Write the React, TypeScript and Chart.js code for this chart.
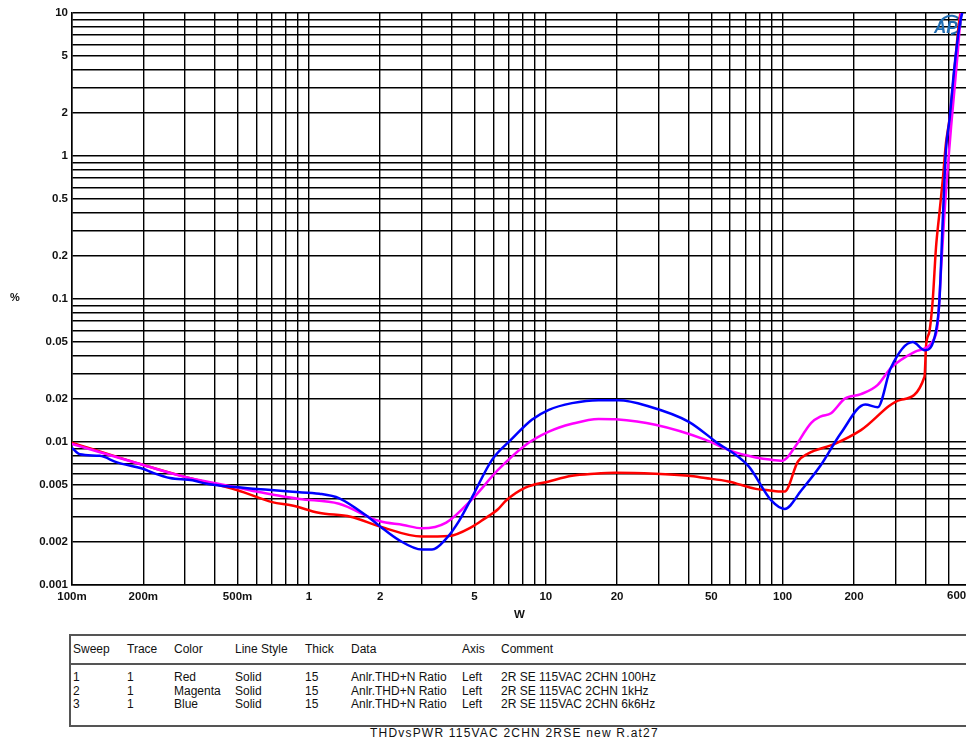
import React, { useEffect, useRef } from "react";
import { Chart, registerables } from "chart.js";

Chart.register(...registerables);

// ---------- data (W vs THD+N %) ----------
const RED_W = [0.1, 0.2, 0.3, 0.5, 0.7, 0.85, 1.1, 1.5, 2.0, 3.0, 3.9, 4.9, 5.5, 6.3, 6.8, 8.2, 10.3, 12.9, 16, 19.7, 29, 40, 47, 59, 77, 87, 96, 102, 116, 128, 166, 214, 315, 397, 403, 417, 430, 444, 459, 474, 489, 506, 531, 557, 585];
const RED_PCT = [0.0099, 0.0069, 0.0057, 0.0046, 0.0038, 0.0036, 0.0032, 0.0030, 0.00256, 0.00218, 0.0022, 0.00256, 0.0029, 0.0034, 0.0039, 0.0048, 0.0053, 0.0058, 0.006, 0.0061, 0.006, 0.0058, 0.0056, 0.0053, 0.0047, 0.0046, 0.0045, 0.0045, 0.0073, 0.0083, 0.0097, 0.0121, 0.0197, 0.0286, 0.047, 0.06, 0.098, 0.23, 0.40, 0.68, 1.23, 1.8, 4.0, 8.9, 13];

const MAGENTA_W = [0.1, 0.2, 0.3, 0.5, 0.6, 0.7, 0.91, 1.34, 1.98, 2.5, 3.0, 3.8, 4.9, 6.3, 8.2, 10.3, 12.9, 16.7, 19.7, 29, 47, 60, 77, 90, 100, 104, 113, 132, 145, 160, 183, 214, 252, 286, 361, 439, 452, 467, 482, 498, 514, 531, 548, 566, 585];
const MAGENTA_PCT = [0.0097, 0.0069, 0.0057, 0.0048, 0.0045, 0.0043, 0.0040, 0.0037, 0.0028, 0.00263, 0.00249, 0.00273, 0.0040, 0.0064, 0.0095, 0.0118, 0.0134, 0.0145, 0.0144, 0.0132, 0.0104, 0.0087, 0.0078, 0.0075, 0.0074, 0.0077, 0.0093, 0.0136, 0.0151, 0.0159, 0.0201, 0.0216, 0.0251, 0.0329, 0.0427, 0.054, 0.069, 0.168, 0.40, 0.84, 1.6, 2.9, 5.25, 10, 14];

const BLUE_W = [0.1, 0.108, 0.131, 0.155, 0.199, 0.219, 0.259, 0.323, 0.37, 0.449, 0.601, 0.852, 1.107, 1.344, 1.746, 1.98, 2.4, 3.0, 3.31, 3.79, 4.3, 4.88, 5.93, 7.19, 8.73, 10.3, 12.9, 16.7, 20.3, 27.1, 40, 52, 71.6, 89.5, 102, 120, 145, 176, 223, 252, 286, 354, 398, 444, 459, 474, 489, 506, 531, 557, 580];
const BLUE_PCT = [0.0091, 0.0082, 0.0080, 0.0072, 0.0065, 0.0061, 0.0056, 0.0054, 0.0051, 0.0049, 0.0047, 0.00448, 0.00435, 0.00404, 0.00306, 0.0026, 0.00206, 0.00177, 0.00177, 0.0021, 0.0028, 0.0041, 0.0075, 0.0105, 0.0143, 0.0168, 0.0187, 0.0196, 0.0196, 0.0178, 0.0139, 0.0101, 0.0068, 0.0039, 0.0034, 0.0046, 0.0069, 0.0115, 0.0183, 0.0175, 0.0329, 0.050, 0.0438, 0.06, 0.098, 0.356, 1.1, 1.79, 4.2, 8.0, 11];

// ---------- axes ----------
const X_MIN = 0.1;
const X_MAX = 600;
const Y_MIN = 0.001;
const Y_MAX = 10;
const X_LABEL_VALUES = [0.1, 0.2, 0.5, 1, 2, 5, 10, 20, 50, 100, 200];
const X_LABEL_TEXT = ["100m", "200m", "500m", "1", "2", "5", "10", "20", "50", "100", "200"];
const X_END_LABEL = "600";
const Y_LABEL_VALUES = [0.001, 0.002, 0.005, 0.01, 0.02, 0.05, 0.1, 0.2, 0.5, 1, 2, 5, 10];
const Y_LABEL_TEXT = ["0.001", "0.002", "0.005", "0.01", "0.02", "0.05", "0.1", "0.2", "0.5", "1", "2", "5", "10"];
const MULTIPLIERS = [1, 2, 3, 4, 5, 6, 7, 8, 9];

// ---------- table ----------
const TABLE_HEADERS = ["Sweep", "Trace", "Color", "Line Style", "Thick", "Data", "Axis", "Comment"];
const TABLE_ROWS = [
  ["1", "1", "Red", "Solid", "15", "Anlr.THD+N Ratio", "Left", "2R SE 115VAC 2CHN 100Hz"],
  ["2", "1", "Magenta", "Solid", "15", "Anlr.THD+N Ratio", "Left", "2R SE 115VAC 2CHN 1kHz"],
  ["3", "1", "Blue", "Solid", "15", "Anlr.THD+N Ratio", "Left", "2R SE 115VAC 2CHN 6k6Hz"],
];
const COL_X = [73, 127, 174, 235, 305, 351, 462, 501];
const ROW_Y = [677, 690.5, 704];
const FOOTER = "THDvsPWR 115VAC 2CHN 2RSE new R.at27";

function gridTicks(min: number, max: number) {
  const out: number[] = [];
  for (let e = Math.floor(Math.log10(min)); e <= Math.ceil(Math.log10(max)); e++) {
    for (const m of MULTIPLIERS) {
      const v = Number((m * Math.pow(10, e)).toPrecision(6));
      if (v >= min * 0.9999 && v <= max * 1.0001) out.push(v);
    }
  }
  return out;
}

function labelFor(values: number[], texts: string[], v: number) {
  const i = values.findIndex((x) => Math.abs(x - v) / x < 1e-6);
  return i >= 0 ? texts[i] : "";
}

const FONT_FAMILY = "'Liberation Sans', Arial, sans-serif";
const AXIS_FONT = { family: FONT_FAMILY, size: 11.5, weight: "bold" as const };
const TABLE_FONT = "'Liberation Sans', Arial, sans-serif";

const decorPlugin = {
  id: "decor",
  beforeDatasetsDraw(chart: any) {
    const ctx = chart.ctx;
    ctx.save();
    ctx.strokeStyle = "#1f6db3";
    ctx.fillStyle = "#1f6db3";
    ctx.lineWidth = 2;
    ctx.beginPath();
    ctx.ellipse(950, 25, 11, 9, -0.3, Math.PI * 1.15, Math.PI * 2.55);
    ctx.stroke();
    ctx.font = "italic bold 17px " + FONT_FAMILY;
    ctx.fillText("AP", 934, 33);
    ctx.restore();
  },
  afterDraw(chart: any) {
    const ctx = chart.ctx;
    ctx.save();
    ctx.fillStyle = "#111";
    ctx.font = "bold 11.5px " + FONT_FAMILY;
    ctx.textAlign = "left";
    ctx.textBaseline = "top";
    ctx.fillText(X_END_LABEL, 947, chart.chartArea.bottom + 5);
    ctx.restore();
  },
};

function ThdChart() {
  const ref = useRef<HTMLCanvasElement | null>(null);
  useEffect(() => {
    if (!ref.current) return;
    const xGrid = gridTicks(X_MIN, X_MAX);
    const yGrid = gridTicks(Y_MIN, Y_MAX);
    const mk = (xs: number[], ys: number[]) => xs.map((x, i) => ({ x, y: ys[i] }));
    const common = {
      pointRadius: 0,
      borderWidth: 2.5,
      fill: false,
      cubicInterpolationMode: "monotone" as const,
    };
    const chart = new Chart(ref.current, {
      type: "line",
      data: {
        datasets: [
          { ...common, label: "Red", data: mk(RED_W, RED_PCT), borderColor: "#ff0000", order: 3 },
          { ...common, label: "Magenta", data: mk(MAGENTA_W, MAGENTA_PCT), borderColor: "#ff00ff", order: 2 },
          { ...common, label: "Blue", data: mk(BLUE_W, BLUE_PCT), borderColor: "#0000ff", order: 1 },
        ],
      },
      options: {
        animation: false,
        responsive: false,
        devicePixelRatio: 1,
        layout: { padding: { left: 0, top: 13, right: 33, bottom: 0 } },
        plugins: { legend: { display: false }, tooltip: { enabled: false } },
        scales: {
          x: {
            type: "logarithmic",
            min: X_MIN,
            max: X_MAX,
            afterBuildTicks: (scale: any) => {
              scale.ticks = xGrid.map((v) => ({ value: v }));
            },
            afterFit: (scale: any) => {
              scale.height = 38;
            },
            ticks: {
              autoSkip: false,
              maxRotation: 0,
              padding: 5,
              color: "#111",
              font: AXIS_FONT,
              callback: (v: any) => labelFor(X_LABEL_VALUES, X_LABEL_TEXT, Number(v)),
            },
            grid: { color: "#000", lineWidth: 1.4, drawTicks: false },
            border: { display: true, color: "#000", width: 1.5 },
            title: { display: true, text: "W", color: "#111", font: AXIS_FONT, padding: { top: 0, bottom: 1 } },
          },
          y: {
            type: "logarithmic",
            min: Y_MIN,
            max: Y_MAX,
            afterBuildTicks: (scale: any) => {
              scale.ticks = yGrid.map((v) => ({ value: v }));
            },
            afterFit: (scale: any) => {
              scale.width = 72;
            },
            ticks: {
              autoSkip: false,
              padding: 4,
              color: "#111",
              font: AXIS_FONT,
              callback: (v: any) => labelFor(Y_LABEL_VALUES, Y_LABEL_TEXT, Number(v)),
            },
            grid: { color: "#000", lineWidth: 1.4, drawTicks: false },
            border: { display: true, color: "#000", width: 1.5 },
          },
        },
      },
      plugins: [decorPlugin],
    } as any);
    return () => chart.destroy();
  }, []);
  return (
    <canvas
      ref={ref}
      width={1000}
      height={623}
      style={{ position: "absolute", left: 0, top: 0, width: 1000, height: 623, display: "block" }}
    />
  );
}

export default function App() {
  const textStyle = (left: number, center: number): React.CSSProperties => ({
    position: "absolute",
    left,
    top: center - 7,
    lineHeight: "14px",
    fontSize: 12,
    fontFamily: TABLE_FONT,
    color: "#111",
    whiteSpace: "nowrap",
  });
  return (
    <div
      style={{
        position: "fixed",
        left: 0,
        top: 0,
        width: 966,
        height: 745,
        overflow: "hidden",
        background: "#fff",
      }}
    >
      <ThdChart />
      <div
        style={{
          position: "absolute",
          left: 10,
          top: 291,
          fontFamily: FONT_FAMILY,
          fontWeight: "bold",
          fontSize: 11,
          color: "#111",
        }}
      >
        %
      </div>
      <div
        style={{
          position: "absolute",
          left: 69,
          top: 634,
          width: 1000,
          height: 93,
          boxSizing: "border-box",
          border: "2px solid #555",
        }}
      />
      <div style={{ position: "absolute", left: 69, top: 663, width: 1000, height: 2, background: "#555" }} />
      {TABLE_HEADERS.map((h, i) => (
        <div key={"h" + i} style={textStyle(COL_X[i], 649)}>
          {h}
        </div>
      ))}
      {TABLE_ROWS.map((row, r) =>
        row.map((cell, c) => (
          <div key={r + "-" + c} style={textStyle(COL_X[c], ROW_Y[r])}>
            {cell}
          </div>
        ))
      )}
      <div style={{ ...textStyle(370, 733), letterSpacing: "1.2px" }}>{FOOTER}</div>
    </div>
  );
}
